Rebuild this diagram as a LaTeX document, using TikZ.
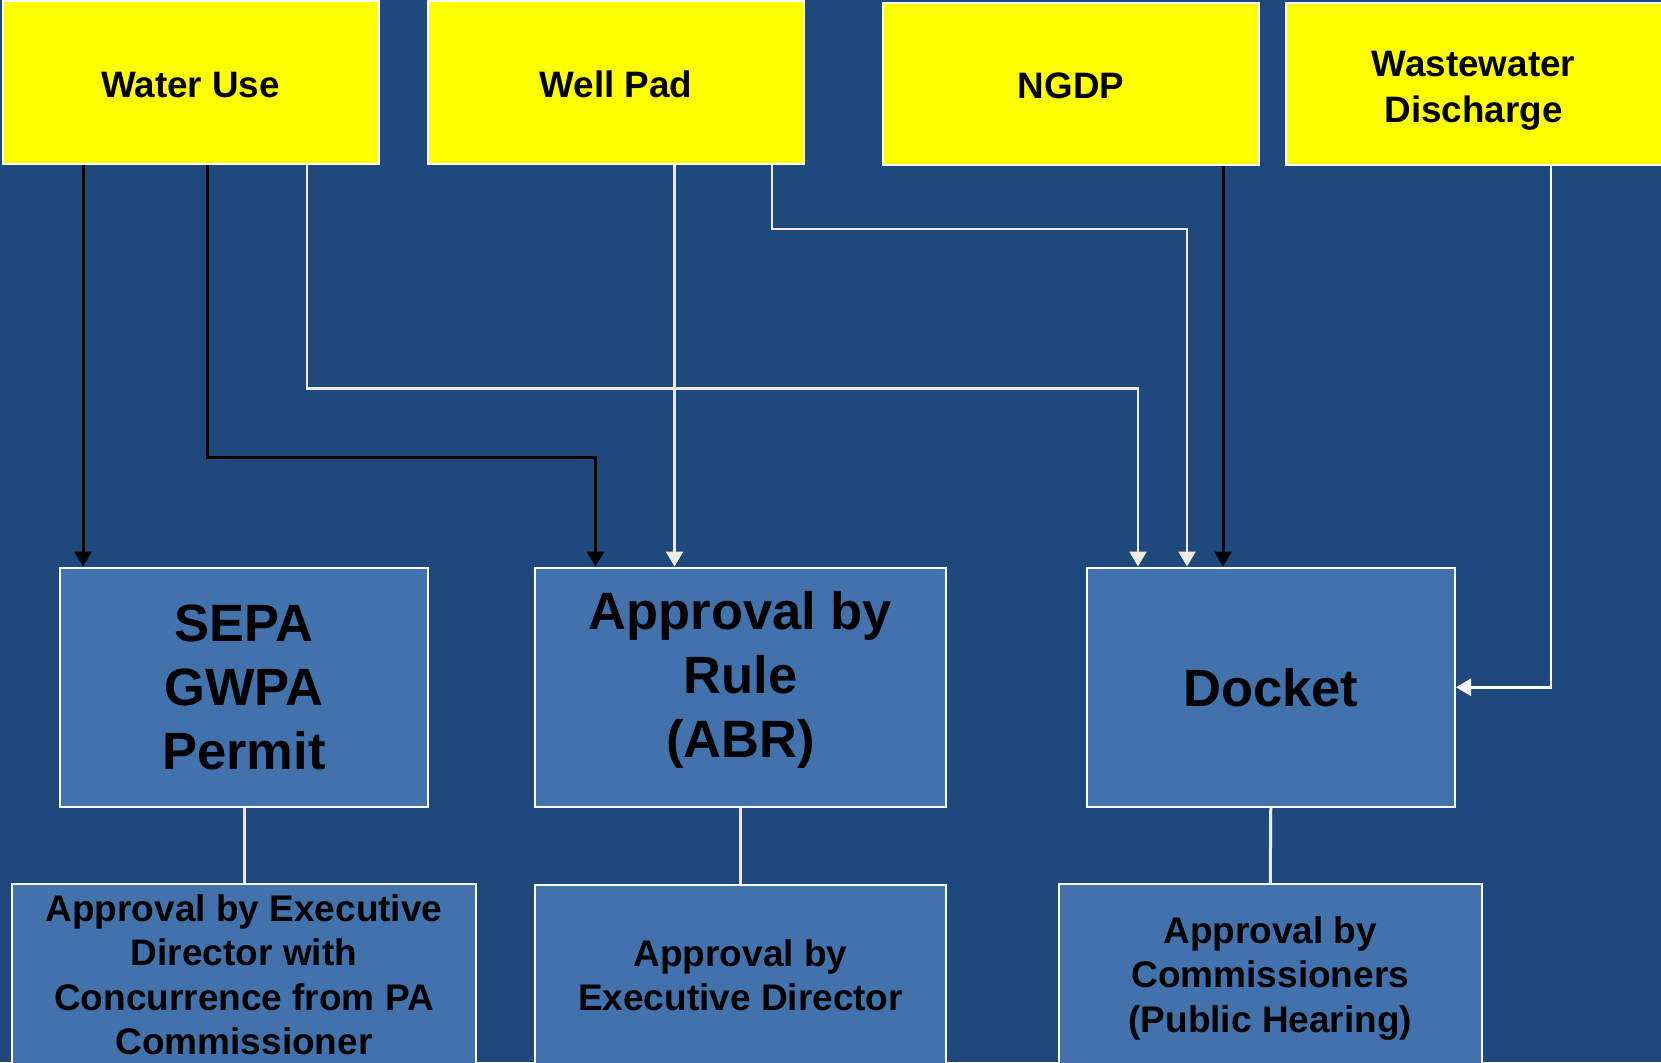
\documentclass[tikz,border=0pt]{standalone}
\usepackage{fontspec}
\setmainfont{Liberation Sans}
\usetikzlibrary{arrows.meta}
\definecolor{bgblue}{RGB}{31,73,125}
\definecolor{boxblue}{RGB}{65,114,172}
\definecolor{offwhite}{RGB}{238,236,225}
\definecolor{pureyellow}{RGB}{255,255,0}
\begin{document}
\begin{tikzpicture}[x=1pt,y=-1pt,
  ytext/.style={font=\bfseries\fontsize{36.8}{45.5}\selectfont, align=center},
  mtext/.style={font=\bfseries\fontsize{52.5}{64}\selectfont, align=center},
  ltext/.style={font=\bfseries\fontsize{37}{44.5}\selectfont, align=center},
  ybox/.style={draw=white, line width=2pt, fill=pureyellow, inner sep=0pt,
    minimum width=376pt, minimum height=163pt, ytext},
  mbox/.style={draw=white, line width=2pt, fill=boxblue, inner sep=0pt,
    minimum height=239.5pt, mtext},
  lbox/.style={draw=white, line width=2pt, fill=boxblue, inner sep=0pt,
    minimum height=182pt, ltext},
  blkarrow/.style={draw=black, line width=3pt, -{Triangle[width=17pt,length=15pt]}},
  wharrow/.style={draw=offwhite, line width=2.5pt, -{Triangle[width=17pt,length=15pt]}},
  link/.style={draw=offwhite, line width=3pt}
]
\useasboundingbox (0,0) rectangle (1661,1062);
\clip (0,0) rectangle (1661,1062);
\fill[bgblue] (0,0) rectangle (1661,1062);

% top row
\node[ybox, label={[ytext, yshift=-2pt]center:Water Use}] (wu) at (190.5,82.75) {};
\node[ybox, label={[ytext, yshift=-2pt]center:Well Pad}] (wp) at (616,82.75) {};
\node[ybox, minimum height=161pt, label={[ytext, yshift=-2pt]center:NGDP}] (ng) at (1071,84) {};
\node[ybox, minimum height=161pt, label={[ytext, yshift=-6.5pt]center:Wastewater\\Discharge}] (ww) at (1473.5,84) {};

% middle row
\node[mbox, minimum width=368pt] (sepa) at (244,687.25) {SEPA\\GWPA\\Permit};
\node[mbox, minimum width=411pt,
  label={[mtext, yshift=7.5pt]center:Approval by\\Rule\\(ABR)}] (abr) at (740.5,687.25) {};
\node[mbox, minimum width=368.5pt] (dk) at (1270.75,687.25) {Docket};

% bottom row
\node[lbox, minimum width=464pt] (b1) at (244,975) {Approval by Executive\\Director with\\Concurrence from PA\\Commissioner};
\node[lbox, minimum width=411pt] (b2) at (740.5,975.5) {Approval by\\Executive Director};
\node[lbox, minimum width=422.5pt,
  label={[ltext, yshift=-3.5pt]center:Approval by\\Commissioners\\(Public Hearing)}] (b3) at (1270.25,975) {};

% vertical links
\draw[link] (sepa.south) -- (b1.north);
\draw[link] (abr.south) -- (b2.north);
\draw[link] (dk.south) -- (b3.north);

% connectors
\draw[wharrow] (wu.south -| 307,0) -- (307,388.5) -- (1138,388.5) -- (dk.north -| 1138,0);
\draw[wharrow] (wp.south -| 674.5,0) -- (abr.north -| 674.5,0);
\draw[wharrow] (wp.south -| 772,0) -- (772,229) -- (1187,229) -- (dk.north -| 1187,0);
\draw[wharrow, draw=white] (ww.south -| 1551,0) -- (1551,687.25) -- (dk.east);
\draw[blkarrow] (wu.south -| 83,0) -- (sepa.north -| 83,0);
\draw[blkarrow] (wu.south -| 207,0) -- (207,457) -- (595.5,457) -- (abr.north -| 595.5,0);
\draw[blkarrow] (ng.south -| 1223,0) -- (dk.north -| 1223,0);
\end{tikzpicture}
\end{document}
